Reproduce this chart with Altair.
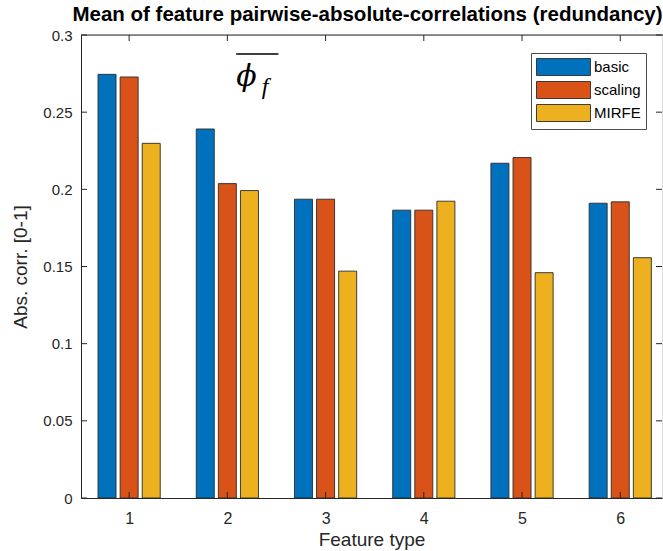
import altair as alt
import pandas as pd

# ---- data ----
feature_types = [1, 2, 3, 4, 5, 6]
series_names = ["basic", "scaling", "MIRFE"]
basic = [0.2745, 0.2391, 0.1936, 0.1865, 0.2169, 0.1910]
scaling = [0.2728, 0.2037, 0.1936, 0.1865, 0.2206, 0.1919]
mirfe = [0.2298, 0.1992, 0.1470, 0.1923, 0.1460, 0.1557]
colors = ["#0072BD", "#D95319", "#EDB120"]
y_ticks = [0, 0.05, 0.1, 0.15, 0.2, 0.25, 0.3]

# annotation (phi-bar-f) placed in data units
ann_phi = [{"x": 2.195, "y": 0.2728, "t": "ϕ"}]
ann_sub = [{"x": 2.385, "y": 0.2665, "t": "f"}]
ann_bar = [{"x": 2.09, "x2": 2.52, "y": 0.2877}]

rows = []
for i, vals in enumerate([basic, scaling, mirfe]):
    for t, v in zip(feature_types, vals):
        rows.append({"type": t, "series": series_names[i], "idx": i, "value": v})
df = pd.DataFrame(rows)

W, H = 581, 463
GROUP_STEP = 0.225
AX = "#262626"
FONT = "Liberation Sans"

xscale = alt.Scale(domain=[0.51, 6.425], nice=False, zero=False, padding=0)
yscale = alt.Scale(domain=[0, 0.3], nice=False, padding=0)

bars = alt.Chart(df).transform_calculate(
    xpos=f"datum.type + (datum.idx - 1) * {GROUP_STEP}"
).mark_bar(size=18, orient="vertical", stroke="#2b2b2b", strokeWidth=0.9).encode(
    x=alt.X("xpos:Q", scale=xscale,
            axis=alt.Axis(values=feature_types, format="d", title="Feature type",
                          ticks=False, grid=False, labelFontSize=16, labelColor=AX,
                          labelPadding=12, domainColor=AX, titleFontSize=19,
                          titleFontWeight="normal", titleColor=AX, titlePadding=4,
                          labelFont=FONT, titleFont=FONT)),
    y=alt.Y("value:Q", scale=yscale,
            axis=alt.Axis(values=y_ticks, format="~g", title="Abs. corr. [0-1]",
                          ticks=False, grid=False, labelFontSize=15, labelColor=AX,
                          labelPadding=9, domainColor=AX, titleFontSize=19,
                          titleFontWeight="normal", titleColor=AX,
                          titleX=-61, titleY=H / 2, titleBaseline="middle",
                          labelFont=FONT, titleFont=FONT)),
    color=alt.Color("series:N", scale=alt.Scale(domain=series_names, range=colors),
                    legend=alt.Legend(title=None, orient="none", legendX=450, legendY=18,
                                      padding=5, strokeColor="#4d4d4d", fillColor="white",
                                      symbolType="M-1,-1H5.35V1H-1Z", symbolSize=289,
                                      symbolStrokeColor="#2b2b2b", symbolStrokeWidth=0.9,
                                      symbolOpacity=1, labelOffset=40, labelFontSize=15,
                                      labelColor="black", labelFont=FONT, rowPadding=1)),
)

ydf = pd.DataFrame({"v": y_ticks})
xdf = pd.DataFrame({"t": feature_types})

ytick_l = alt.Chart(ydf).mark_rule(color=AX, strokeWidth=1).encode(
    y=alt.Y("v:Q", scale=yscale), x=alt.value(0), x2=alt.value(6))
ytick_r = alt.Chart(ydf).mark_rule(color=AX, strokeWidth=1).encode(
    y=alt.Y("v:Q", scale=yscale), x=alt.value(W - 6), x2=alt.value(W))
xtick_b = alt.Chart(xdf).mark_rule(color=AX, strokeWidth=1).encode(
    x=alt.X("t:Q", scale=xscale), y=alt.value(H), y2=alt.value(H - 6))
xtick_t = alt.Chart(xdf).mark_rule(color=AX, strokeWidth=1).encode(
    x=alt.X("t:Q", scale=xscale), y=alt.value(0), y2=alt.value(6))
top_line = alt.Chart(xdf.head(1)).mark_rule(color=AX, strokeWidth=1).encode(
    x=alt.value(0), x2=alt.value(W + 1), y=alt.value(0))

phi = alt.Chart(pd.DataFrame(ann_phi)).mark_text(
    font="DejaVu Serif", fontStyle="italic", fontSize=30, baseline="middle",
    align="center", color="black").encode(
    x=alt.X("x:Q", scale=xscale), y=alt.Y("y:Q", scale=yscale), text="t:N")
sub = alt.Chart(pd.DataFrame(ann_sub)).mark_text(
    font="Liberation Serif", fontStyle="italic", fontSize=24, baseline="middle",
    align="center", color="black").encode(
    x=alt.X("x:Q", scale=xscale), y=alt.Y("y:Q", scale=yscale), text="t:N")
obar = alt.Chart(pd.DataFrame(ann_bar)).mark_rule(color="black", strokeWidth=1.5).encode(
    x=alt.X("x:Q", scale=xscale), x2="x2:Q", y=alt.Y("y:Q", scale=yscale))

chart = alt.layer(bars, ytick_l, ytick_r, xtick_b, xtick_t, top_line, phi, sub, obar).properties(
    width=W, height=H,
    title=alt.TitleParams("Mean of feature pairwise-absolute-correlations (redundancy)",
                          fontSize=20.5, fontWeight="bold", color="black", font=FONT,
                          anchor="middle", offset=3, dx=-4),
    autosize=alt.AutoSizeParams(type="none"),
    padding={"left": 81, "top": 35, "right": 1, "bottom": 53},
).configure_view(strokeWidth=0).configure(font=FONT, background="white")

chart.save("out.html", embed_options={"renderer": "svg", "actions": False})
